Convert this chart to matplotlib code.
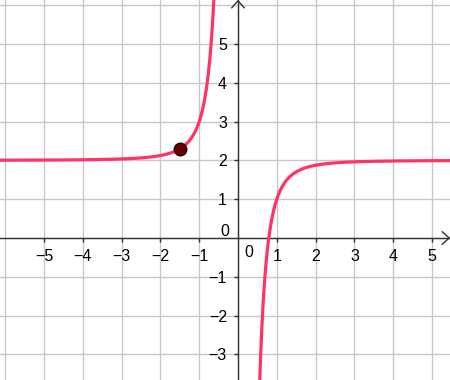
import numpy as np
import matplotlib
matplotlib.use("Agg")
import matplotlib.pyplot as plt

plt.rcParams["font.family"] = ["Liberation Sans", "DejaVu Sans"]

# f(x) = asymptote - coef / x**power
asymptote = 2.0
coef = 1.0
power = 3

point_x = [-1.5]
point_y = [2.3]

x_ticks = [-5, -4, -3, -2, -1, 1, 2, 3, 4, 5]
y_ticks = [-3, -2, -1, 1, 2, 3, 4, 5]

xlim = (-6.134, 5.464)
ylim = (-3.66, 6.134)

curve_color = "#ff3366"
grid_color = "#c8c8c8"
axis_color = "#333333"


def f(x):
    return asymptote - coef / x**power


fig = plt.figure(figsize=(4.5, 3.8), dpi=100)
ax = fig.add_axes([0, 0, 1, 1])
ax.set_xlim(*xlim)
ax.set_ylim(*ylim)

# grid
for gx in range(-6, 6):
    ax.axvline(gx, color=grid_color, lw=1, zorder=0)
for gy in range(-3, 7):
    ax.axhline(gy, color=grid_color, lw=1, zorder=0)

# axes through origin
for side in ["top", "right"]:
    ax.spines[side].set_visible(False)
ax.spines["left"].set_position("zero")
ax.spines["bottom"].set_position("zero")
for side in ["left", "bottom"]:
    ax.spines[side].set_color(axis_color)
    ax.spines[side].set_linewidth(1)
    ax.spines[side].set_zorder(2)

ax.set_xticks(x_ticks)
ax.set_yticks(y_ticks)
ax.set_xticklabels([f"\u2212{-t}" if t < 0 else str(t) for t in x_ticks])
ax.set_yticklabels([f"\u2212{-t}" if t < 0 else str(t) for t in y_ticks])
ax.tick_params(axis="both", direction="out", length=3, width=1,
               color=axis_color, labelsize=11.5, labelcolor="black")
ax.tick_params(axis="x", pad=5)
ax.tick_params(axis="y", pad=5)

# origin labels
ax.text(-0.23, 0.04, "0", ha="right", va="baseline", fontsize=11.5)
ax.text(0.155, -0.49, "0", ha="left", va="baseline", fontsize=11.5)

# arrow heads (open chevrons)
ax.plot([xlim[1] - 0.2, xlim[1] - 0.02, xlim[1] - 0.2], [0.16, 0, -0.16],
        color=axis_color, lw=1, clip_on=False, zorder=3)
ax.plot([-0.16, 0, 0.16], [ylim[1] - 0.2, ylim[1] - 0.02, ylim[1] - 0.2],
        color=axis_color, lw=1, clip_on=False, zorder=3)

# curve, two branches around the asymptote x = 0
xl = np.linspace(xlim[0] - 0.2, -0.55, 600)
xr = np.linspace(0.5, xlim[1] + 0.2, 600)
ax.plot(xl, f(xl), color=curve_color, lw=2.3, zorder=4, solid_capstyle="butt")
ax.plot(xr, f(xr), color=curve_color, lw=2.3, zorder=4, solid_capstyle="butt")

ax.plot(point_x, point_y, "o", ms=9, color="#6b0000", mec="#1a0000", mew=1,
        zorder=5)

fig.savefig("out.png", dpi=100)
